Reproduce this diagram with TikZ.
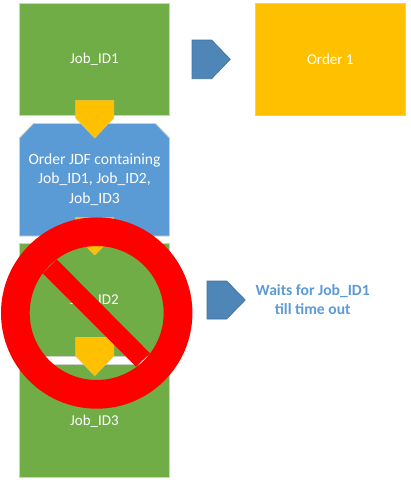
\documentclass[tikz,border=0pt]{standalone}
\usepackage{fontspec}
\setmainfont{Carlito}
\definecolor{jobgreen}{HTML}{70AD47}
\definecolor{jdfblue}{HTML}{5B9BD5}
\definecolor{gold}{HTML}{FFC000}
\definecolor{edgegrey}{HTML}{CBD2CB}
\definecolor{arrowfill}{HTML}{4F86B8}
\definecolor{arrowedge}{HTML}{41719C}
\definecolor{stopred}{HTML}{FF0000}
\tikzset{
  cardbox/.style={draw=edgegrey,line width=0.8pt,minimum width=150pt,minimum height=112.5pt,inner sep=0pt,text=white,font=\fontsize{15}{18}\selectfont,align=center},
  jobbox/.style={cardbox,fill=jobgreen},
  orderbox/.style={cardbox,fill=gold},
  jdfshape/.style={draw=edgegrey,line width=0.8pt,fill=jdfblue},
  downtag/.style={draw=gold!70!edgegrey,line width=0.6pt,fill=gold},
  righttag/.style={draw=arrowedge,line width=0.6pt,fill=arrowfill},
  labeltext/.style={inner sep=0pt,align=center},
}
\begin{document}
\begin{tikzpicture}[x=1pt,y=-1pt]
\useasboundingbox (0,0) rectangle (411,485);
% boxes
\node[jobbox] (job1) at (94.5,59.2) {Job\_ID1};
\path[jdfshape] (33.5,123.5) -- (155.5,123.5) -- (169.5,138) -- (169.5,236) -- (19.5,236) -- (19.5,138) -- cycle;
\node[labeltext,text=white,font=\fontsize{15.6}{19.5}\selectfont] (jdf) at (94.5,179.3) {Order JDF containing\\Job\_ID1, Job\_ID2,\\Job\_ID3};
\node[jobbox] (job2) at (94.5,299.8) {Job\_ID2};
\node[jobbox] (job3) at (94.5,420.8) {Job\_ID3};
\node[orderbox] (order) at (330.3,59.2) {Order 1};
% down tags
\path[downtag] (75.7,100.3) -- (113.7,100.3) -- (113.7,118) -- (94.7,138) -- (75.7,118) -- cycle;
\path[downtag] (75.7,217.3) -- (113.7,217.3) -- (113.7,236) -- (94.7,255) -- (75.7,236) -- cycle;
\path[downtag] (75.7,337.5) -- (113.7,337.5) -- (113.7,356) -- (94.7,375.7) -- (75.7,356) -- cycle;
% right tags
\path[righttag] (192,40) -- (211.7,40) -- (230.3,59.3) -- (211.7,78.7) -- (192,78.7) -- cycle;
\path[righttag] (207,281) -- (226.7,281) -- (245.3,300) -- (226.7,319) -- (207,319) -- cycle;
\node[labeltext,text=jdfblue,font=\fontsize{15.6}{19.3}\selectfont\bfseries] (waits) at (312.7,299.6) {Waits for Job\_ID1\\till time out};
% no symbol
\fill[stopred,even odd rule] (96.7,313) circle[radius=95.7pt] (96.7,313) circle[radius=67pt];
\fill[stopred] (56.7,259.3) -- (150,353.3) -- (136,366.7) -- (42.7,273.3) -- cycle;
\end{tikzpicture}
\end{document}
